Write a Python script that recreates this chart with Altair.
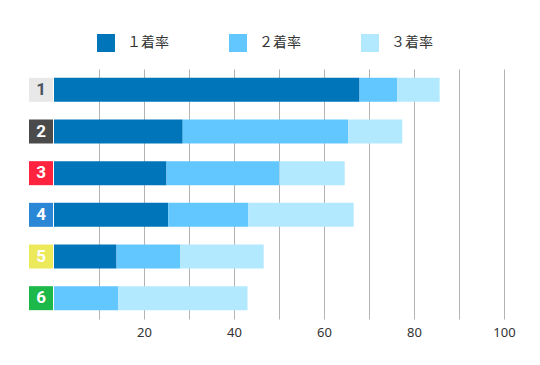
import altair as alt
import pandas as pd

boats = ["1", "2", "3", "4", "5", "6"]
series = ["１着率", "２着率", "３着率"]
rate1 = [67.9, 28.6, 25.0, 25.4, 13.9, 0.0]
rate2 = [8.4, 36.8, 25.1, 17.8, 14.2, 14.3]
rate3 = [9.4, 12.0, 14.5, 23.4, 18.5, 28.7]
series_colors = ["#0075ba", "#62c7ff", "#b3e9fe"]
box_colors = ["#e8e8e8", "#4b4b4b", "#ff2340", "#2a87d6", "#ece95a", "#1cb84a"]
text_colors = ["#4a5560", "#ffffff", "#ffffff", "#ffffff", "#ffffff", "#ffffff"]
x_ticks = [10, 20, 30, 40, 50, 60, 70, 80, 90, 100]

rows = []
for i, b in enumerate(boats):
    for j, (s, vals) in enumerate(zip(series, [rate1, rate2, rate3])):
        rows.append({"boat": b, "series": s, "order": j, "value": vals[i]})
df = pd.DataFrame(rows)
labels = pd.DataFrame({"boat": boats, "box": box_colors, "tc": text_colors})

yenc = alt.Y("boat:N", sort=boats, axis=None, scale=alt.Scale(paddingInner=0.42, paddingOuter=0.21))

bars = alt.Chart(df).mark_bar(size=24).encode(
    x=alt.X("value:Q", stack="zero",
            scale=alt.Scale(domain=[0, 100], nice=False),
            axis=alt.Axis(values=x_ticks, title=None, domain=False, ticks=False,
                          grid=True, gridColor="#b3b3b3", gridWidth=1,
                          labelExpr="datum.value % 20 == 0 ? datum.label : ''",
                          labelFlush=False, labelOverlap=False,
                          labelFontSize=13, labelColor="#333333", labelPadding=7,
                          labelFont="Noto Sans")),
    y=yenc,
    color=alt.Color("series:N", scale=alt.Scale(domain=series, range=series_colors),
                    legend=alt.Legend(title=None, orient="none", direction="horizontal",
                                      legendX=43, legendY=-35,
                                      symbolType="square", symbolSize=324,
                                      symbolStrokeWidth=0, symbolOpacity=1,
                                      labelFontSize=14, labelColor="#333333",
                                      labelFont="Noto Sans CJK JP",
                                      labelOffset=12, columnPadding=60)),
    order=alt.Order("order:Q"),
)

boxes = alt.Chart(labels).mark_bar(size=24).encode(
    x=alt.value(-25), x2=alt.value(-1),
    y=yenc,
    color=alt.Color("box:N", scale=None, legend=None),
)

nums = alt.Chart(labels).mark_text(font="Roboto", fontWeight="bold", fontSize=17,
                                   align="center", baseline="middle").encode(
    x=alt.value(-13), y=yenc,
    text="boat:N",
    color=alt.Color("tc:N", scale=None, legend=None),
)

chart = alt.layer(bars, boxes, nums).resolve_scale(color="independent").properties(
    width=450, height=250,
    autosize=alt.AutoSizeParams(type="none"),
    padding={"left": 46, "top": 61, "right": 20, "bottom": 30},
).configure_view(stroke=None)

chart.save("out.html", embed_options={"renderer": "svg", "actions": False})
